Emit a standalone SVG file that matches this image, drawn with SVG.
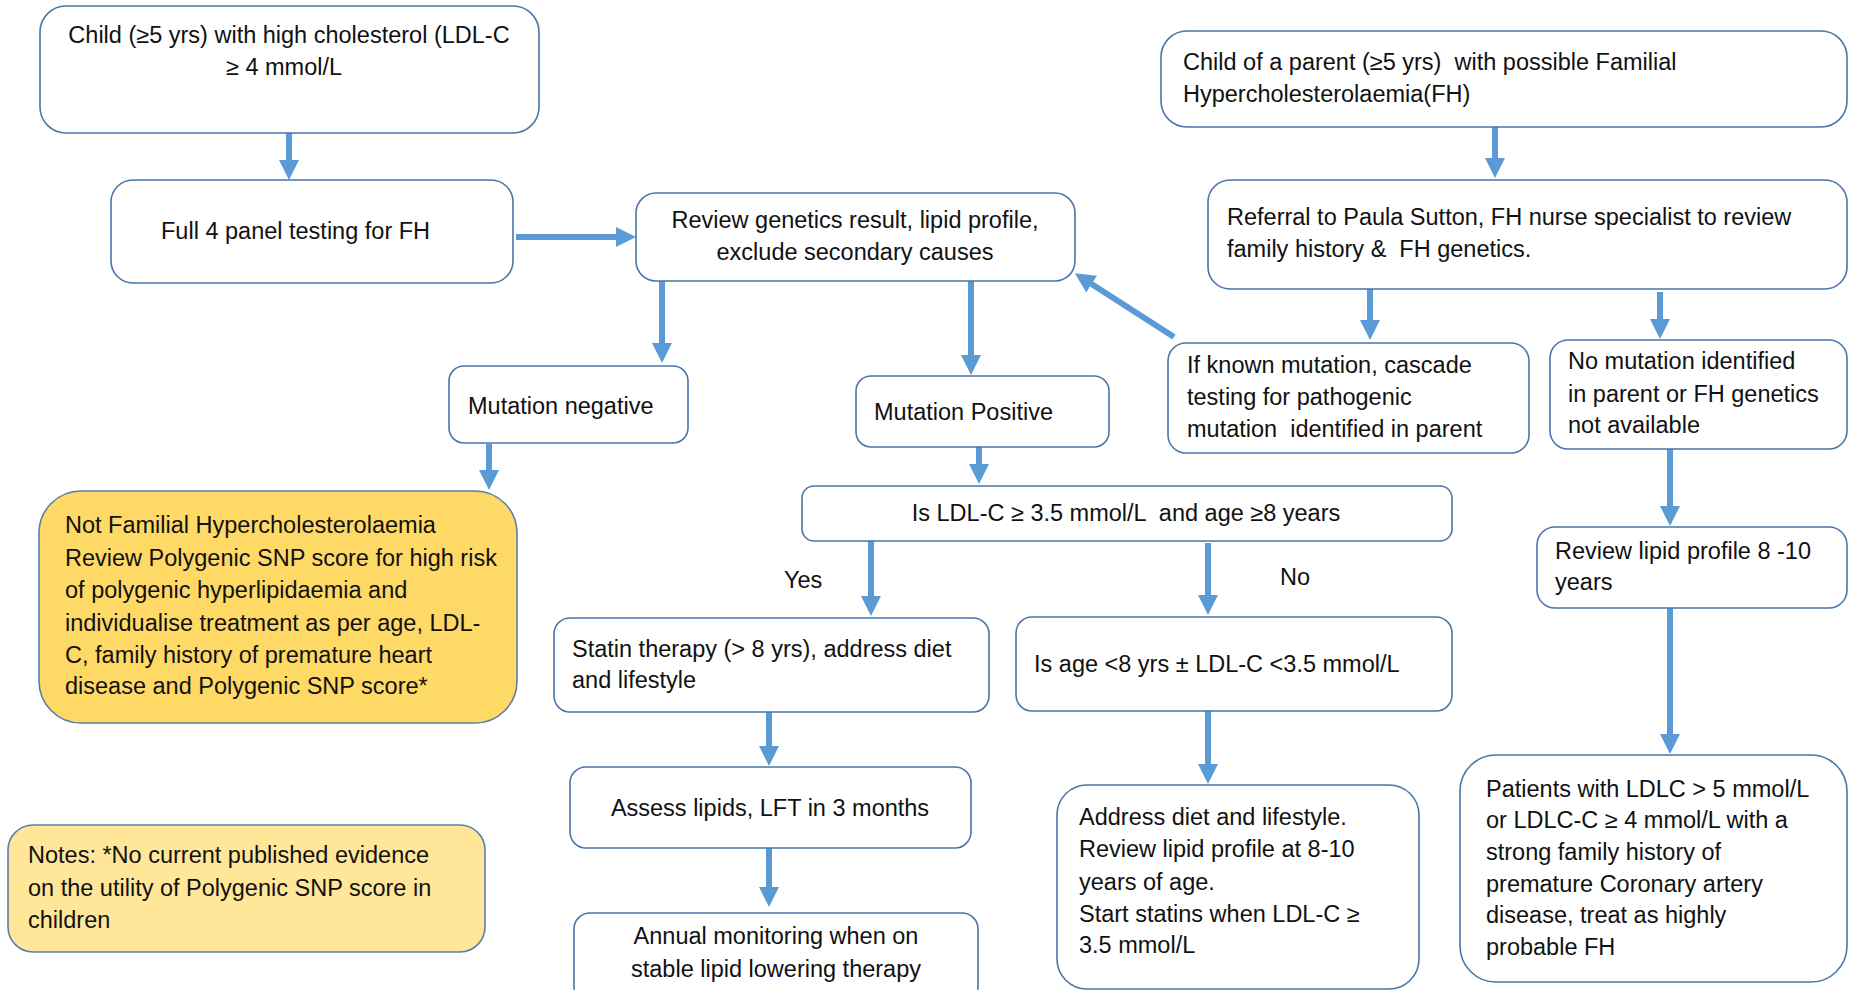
<svg xmlns="http://www.w3.org/2000/svg" width="1850" height="990" viewBox="0 0 1850 990">
<style>
  .box { fill: #ffffff; stroke: #4a76a8; stroke-width: 1.6; }
  .gold { fill: #FFD966; stroke: #5a7fa8; stroke-width: 1.6; }
  .pale { fill: #FFE699; stroke: #5a7fa8; stroke-width: 1.6; }
  text { font-family: "Liberation Sans", Arial, sans-serif; font-size: 23.5px; fill: #111111; white-space: pre; }
  .c { text-anchor: middle; }
  .arrow { stroke: #5B9BD5; stroke-width: 6; fill: none; marker-end: url(#ah); }
</style>
<defs>
  <marker id="ah" viewBox="0 0 20 20" refX="2" refY="10" markerWidth="20" markerHeight="20" markerUnits="userSpaceOnUse" orient="auto">
    <path d="M0,0 L20,10 L0,20 Z" fill="#5B9BD5"/>
  </marker>
</defs>
<rect width="1850" height="990" fill="#ffffff"/>

<g id="connectors">
  <line class="arrow" x1="289" y1="133" x2="289" y2="162"/>
  <line class="arrow" x1="516" y1="237" x2="618" y2="237"/>
  <line class="arrow" x1="662" y1="281" x2="662" y2="345"/>
  <line class="arrow" x1="971" y1="281" x2="971" y2="357"/>
  <line class="arrow" x1="1174" y1="337" x2="1090" y2="283"/>
  <line class="arrow" x1="1495" y1="123" x2="1495" y2="160"/>
  <line class="arrow" x1="1370" y1="289" x2="1370" y2="322"/>
  <line class="arrow" x1="1660" y1="292" x2="1660" y2="321"/>
  <line class="arrow" x1="489" y1="444" x2="489" y2="472"/>
  <line class="arrow" x1="979" y1="447" x2="979" y2="466"/>
  <line class="arrow" x1="871" y1="541" x2="871" y2="598"/>
  <line class="arrow" x1="1208" y1="543" x2="1208" y2="597"/>
  <line class="arrow" x1="769" y1="712" x2="769" y2="748"/>
  <line class="arrow" x1="769" y1="848" x2="769" y2="889"/>
  <line class="arrow" x1="1208" y1="711" x2="1208" y2="766"/>
  <line class="arrow" x1="1670" y1="449" x2="1670" y2="508"/>
  <line class="arrow" x1="1670" y1="608" x2="1670" y2="736"/>
</g>

<g id="n_child_high_chol">
  <rect class="box" x="40" y="6" width="499" height="127" rx="26"/>
  <text class="c" x="289" y="43">Child (≥5 yrs) with high cholesterol (LDL-C</text>
  <text class="c" x="284" y="75">≥ 4 mmol/L</text>
</g>

<g id="n_full_panel">
  <rect class="box" x="111" y="180" width="402" height="103" rx="22"/>
  <text x="161" y="239">Full 4 panel testing for FH</text>
</g>

<g id="n_review_genetics">
  <rect class="box" x="636" y="193" width="439" height="88" rx="20"/>
  <text class="c" x="855" y="228">Review genetics result, lipid profile,</text>
  <text class="c" x="855" y="260">exclude secondary causes</text>
</g>

<g id="n_child_parent">
  <rect class="box" x="1161" y="31" width="686" height="96" rx="26"/>
  <text x="1183" y="70">Child of a parent (≥5 yrs)  with possible Familial</text>
  <text x="1183" y="102">Hypercholesterolaemia(FH)</text>
</g>

<g id="n_referral">
  <rect class="box" x="1208" y="180" width="639" height="109" rx="22"/>
  <text x="1227" y="225">Referral to Paula Sutton, FH nurse specialist to review</text>
  <text x="1227" y="257">family history &amp;  FH genetics.</text>
</g>

<g id="n_mut_neg">
  <rect class="box" x="449" y="366" width="239" height="77" rx="15"/>
  <text x="468" y="414">Mutation negative</text>
</g>

<g id="n_mut_pos">
  <rect class="box" x="856" y="376" width="253" height="71" rx="15"/>
  <text x="874" y="420">Mutation Positive</text>
</g>

<g id="n_known_mutation">
  <rect class="box" x="1168" y="343" width="361" height="110" rx="18"/>
  <text x="1187" y="373">If known mutation, cascade</text>
  <text x="1187" y="405">testing for pathogenic</text>
  <text x="1187" y="437">mutation  identified in parent</text>
</g>

<g id="n_no_mutation">
  <rect class="box" x="1550" y="340" width="297" height="109" rx="18"/>
  <text x="1568" y="369">No mutation identified</text>
  <text x="1568" y="402">in parent or FH genetics</text>
  <text x="1568" y="433">not available</text>
</g>

<g id="n_not_fh">
  <rect class="gold" x="39" y="491" width="478" height="232" rx="42"/>
  <text x="65" y="533">Not Familial Hypercholesterolaemia</text>
  <text x="65" y="566">Review Polygenic SNP score for high risk</text>
  <text x="65" y="598">of polygenic hyperlipidaemia and</text>
  <text x="65" y="631">individualise treatment as per age, LDL-</text>
  <text x="65" y="663">C, family history of premature heart</text>
  <text x="65" y="694">disease and Polygenic SNP score*</text>
</g>

<g id="n_notes">
  <rect class="pale" x="8" y="825" width="477" height="127" rx="25"/>
  <text x="28" y="863">Notes: *No current published evidence</text>
  <text x="28" y="896">on the utility of Polygenic SNP score in</text>
  <text x="28" y="928">children</text>
</g>

<g id="n_ldl_decision">
  <rect class="box" x="802" y="486" width="650" height="55" rx="12"/>
  <text class="c" x="1126" y="521">Is LDL-C ≥ 3.5 mmol/L  and age ≥8 years</text>
</g>

<g id="l_yes"><text x="784" y="588">Yes</text></g>
<g id="l_no"><text x="1280" y="585">No</text></g>

<g id="n_statin">
  <rect class="box" x="554" y="618" width="435" height="94" rx="16"/>
  <text x="572" y="657">Statin therapy (&gt; 8 yrs), address diet</text>
  <text x="572" y="688">and lifestyle</text>
</g>

<g id="n_is_age">
  <rect class="box" x="1016" y="617" width="436" height="94" rx="16"/>
  <text x="1034" y="672">Is age &lt;8 yrs ± LDL-C &lt;3.5 mmol/L</text>
</g>

<g id="n_assess">
  <rect class="box" x="570" y="767" width="401" height="81" rx="16"/>
  <text class="c" x="770" y="816">Assess lipids, LFT in 3 months</text>
</g>

<g id="n_annual">
  <rect class="box" x="574" y="913" width="404" height="90" rx="16"/>
  <text class="c" x="776" y="944">Annual monitoring when on</text>
  <text class="c" x="776" y="977">stable lipid lowering therapy</text>
</g>

<g id="n_address">
  <rect class="box" x="1057" y="785" width="362" height="204" rx="30"/>
  <text x="1079" y="825">Address diet and lifestyle.</text>
  <text x="1079" y="857">Review lipid profile at 8-10</text>
  <text x="1079" y="890">years of age.</text>
  <text x="1079" y="922">Start statins when LDL-C ≥</text>
  <text x="1079" y="953">3.5 mmol/L</text>
</g>

<g id="n_review_lipid">
  <rect class="box" x="1537" y="527" width="310" height="81" rx="18"/>
  <text x="1555" y="559">Review lipid profile 8 -10</text>
  <text x="1555" y="590">years</text>
</g>

<g id="n_patients">
  <rect class="box" x="1460" y="755" width="387" height="227" rx="36"/>
  <text x="1486" y="797">Patients with LDLC &gt; 5 mmol/L</text>
  <text x="1486" y="828">or LDLC-C ≥ 4 mmol/L with a</text>
  <text x="1486" y="860">strong family history of</text>
  <text x="1486" y="892">premature Coronary artery</text>
  <text x="1486" y="923">disease, treat as highly</text>
  <text x="1486" y="955">probable FH</text>
</g>
</svg>
